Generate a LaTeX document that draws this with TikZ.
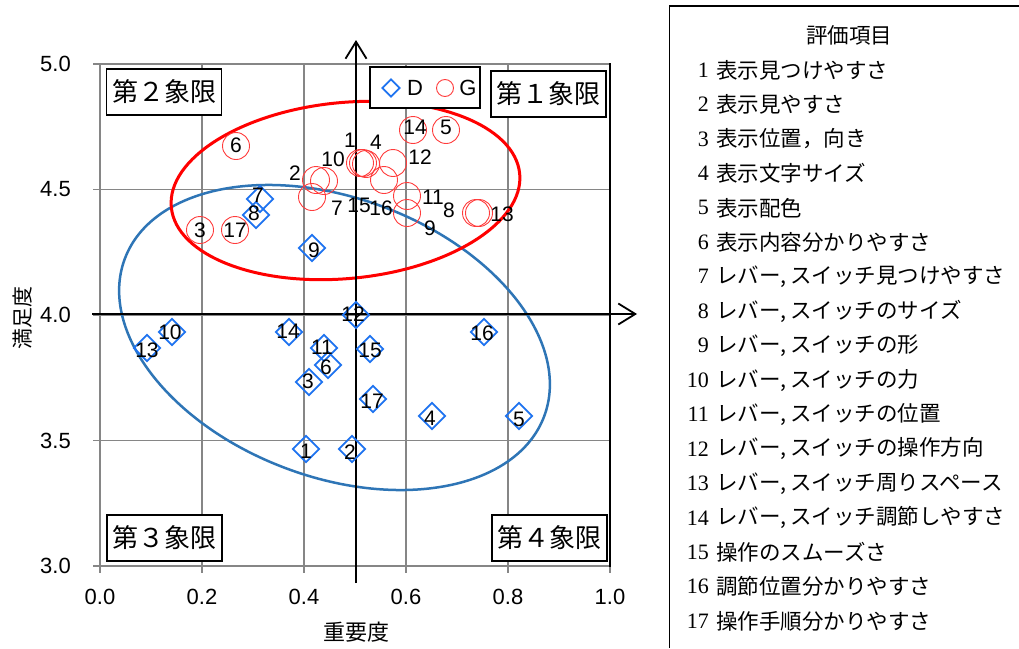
\documentclass[tikz,border=0pt]{standalone}
\usepackage{fontspec}
\setmainfont{Liberation Sans}
\newfontfamily\cjk{Noto Sans CJK JP}
\newfontfamily\lserif{Liberation Serif}
\usetikzlibrary{shapes.geometric,arrows.meta}
\newcommand\fsz[1]{\fontsize{#1}{#1}\selectfont}
\definecolor{gridgray}{RGB}{134,134,134}
\definecolor{dblue}{RGB}{30,115,240}
\definecolor{gred}{RGB}{255,60,60}
\definecolor{ellred}{RGB}{255,0,0}
\definecolor{ellblue}{RGB}{46,117,182}
\begin{document}
\begin{tikzpicture}[x=1pt,y=-1pt,
  gridln/.style={gridgray,line width=1.5pt},
  axisarrow/.style={black,line width=1.8pt,-{Straight Barb[length=17pt,width=21pt]}},
  dmark/.style={diamond,draw=dblue,line width=1.8pt,minimum width=27pt,minimum height=27pt,inner sep=0pt},
  gmark/.style={circle,draw=gred,line width=0.9pt,minimum size=27pt,inner sep=0pt},
  numlbl/.style={font=\fsz{21},inner sep=0pt},
  ticklbl/.style={font=\fsz{22},inner sep=0pt},
  qbox/.style={draw=black,line width=1.5pt,fill=white,font=\cjk\fsz{26},inner sep=0pt,minimum height=46pt,minimum width=115pt},
  legnum/.style={font=\lserif\fsz{22},inner sep=0pt,anchor=east},
  legtxt/.style={font=\cjk\fsz{21.5},inner sep=0pt,anchor=west}]
\useasboundingbox (0,0) rectangle (1019,648);
\fill[white] (0,0) rectangle (1019,648);
% grid
\foreach \x in {202,304,406,508} \draw[gridln] (\x,64) -- (\x,566);
\foreach \y in {64,189.5,315,440.5} \draw[gridln] (100,\y) -- (610,\y);
\draw[gridln] (100,64) -- (100,566);
\draw[gridln] (93,566) -- (610,566);
\foreach \y in {64,189.5,315,440.5,566} \draw[gridln] (93,\y) -- (100,\y);
\foreach \x in {100,202,304,406,508,610} \draw[gridln] (\x,566) -- (\x,573);
\draw[black,line width=1.8pt] (610,63) -- (610,567);
% tick labels
\foreach \v/\y in {5.0/64,4.5/189.5,4.0/315,3.5/440.5,3.0/566}
  \node[ticklbl,anchor=east] (ty\y) at (71,\y) {\v};
\foreach \v/\x in {0.0/100,0.2/202,0.4/304,0.6/406,0.8/508,1.0/610}
  \node[ticklbl] (tx\x) at (\x,597) {\v};
\node[font=\cjk\fsz{22},inner sep=0pt] (xtitle) at (356,632) {重要度};
\node[font=\cjk\fsz{21},inner sep=0pt,rotate=90] (ytitle) at (23,318) {満足度};
% ellipses
\draw[ellblue,line width=2.5pt,rotate around={-20.6:(334.5,337.5)}] (334.5,337.5) ellipse [x radius=224pt,y radius=139.5pt];
\draw[ellred,line width=3pt,rotate around={5.5:(345.5,190.5)}] (345.5,190.5) ellipse [x radius=175pt,y radius=88pt];
% axes arrows
\coordinate (hx0) at (92,314);
\coordinate (hx1) at (637,314);
\coordinate (vy0) at (356,583);
\coordinate (vy1) at (356,40);
\draw[axisarrow] (hx0) -- (hx1);
\draw[axisarrow] (vy0) -- (vy1);
% quadrant boxes
\node[qbox] (q2) at (164,92) {第２象限};
\node[qbox] (q1) at (548.5,94) {第１象限};
\node[qbox] (q3) at (164.5,538) {第３象限};
\node[qbox] (q4) at (549.5,538) {第４象限};
% legend
\node[draw=black,line width=1.5pt,fill=white,minimum width=110pt,minimum height=41pt,inner sep=0pt] (leg) at (425,87.5) {};
\node[diamond,draw=dblue,line width=1.8pt,minimum width=18pt,minimum height=18pt,inner sep=0pt] (legD) at (391,88) {};
\node[font=\fsz{22},inner sep=0pt] (legDt) at (415,88) {D};
\node[circle,draw=gred,line width=0.9pt,minimum size=17pt,inner sep=0pt] (legG) at (445,88) {};
\node[font=\fsz{22},inner sep=0pt] (legGt) at (468,88) {G};
% D markers
\foreach \n/\x/\y in {1/306/449,2/352/449,3/309/382,4/432/416,5/519/416,6/328/365,7/260/199,8/256/215,9/312/248,10/172/332,11/324/348,12/356/315,13/147/348,14/289/332,15/370/349,16/484/332,17/373/399}
  \node[dmark] (D\n) at (\x,\y) {};
% G markers
\foreach \n/\x/\y in {1/360/163,2/316/180,3/200/230,4/366/164,5/446/130,6/236/146,7/312/197,8/476/213,9/407/213,10/324/181,11/407/196,12/393/163,13/479/213,14/413/130,15/363/163,16/384/180,17/235/230}
  \node[gmark] (G\n) at (\x,\y) {};
% D labels
\foreach \n/\x/\y in {1/306/451,2/350/452,3/308/381,4/430/418,5/519/419,6/326/367,7/258/195,8/254/213,9/314/250,10/170/332,11/322/347,12/353/314,13/147/350,14/288/331,15/370/350,16/482/333,17/372/401}
  \node[numlbl] (lD\n) at (\x,\y) {\n};
% G labels
\foreach \n/\x/\y in {1/350/140,2/295/173,3/200/230,4/376/142,5/446/127,6/236/145,7/337/208,8/449/210,9/430/228,10/333/159,11/433/197,12/420/157,13/502/214,14/415/127,15/359/205,16/381/208,17/235/230}
  \node[numlbl] (lG\n) at (\x,\y) {\n};
% item list box
\coordinate (bx0) at (669.5,648);
\coordinate (bx1) at (669.5,6);
\coordinate (bx2) at (1019,6);
\draw[black,line width=1.8pt] (bx0) -- (bx1) -- (bx2);
\node[font=\cjk\fsz{21.5},inner sep=0pt] (ltitle) at (849,35) {評価項目};
\foreach \n/\t [count=\k from 0] in {1/{表示見つけやすさ},2/{表示見やすさ},3/{表示位置，向き},4/{表示文字サイズ},5/{表示配色},6/{表示内容分かりやすさ},7/{レバー,\,スイッチ見つけやすさ},8/{レバー,\,スイッチのサイズ},9/{レバー,\,スイッチの形},10/{レバー,\,スイッチの力},11/{レバー,\,スイッチの位置},12/{レバー,\,スイッチの操作方向},13/{レバー,\,スイッチ周りスペース},14/{レバー,\,スイッチ調節しやすさ},15/{操作のスムーズさ},16/{調節位置分かりやすさ},17/{操作手順分かりやすさ}}
{
  \node[legnum] (ln\n) at (709,70+34.45*\k) {\n};
  \node[legtxt] (lt\n) at (716,70+34.45*\k) {\t};
}
\end{tikzpicture}
\end{document}
